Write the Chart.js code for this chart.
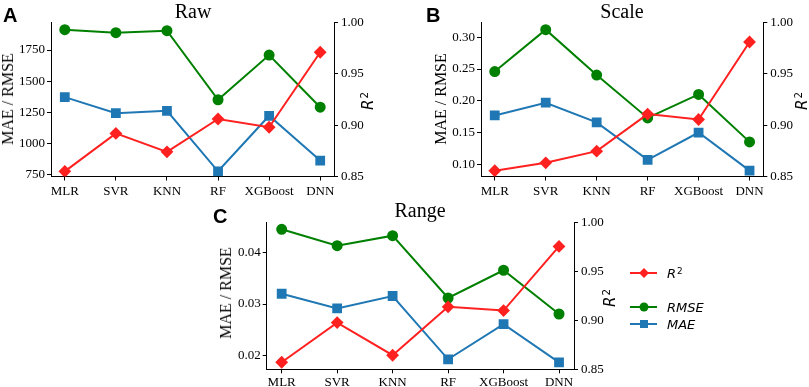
<!DOCTYPE html>
<html>
<head>
<meta charset="utf-8">
<script src="https://cdn.jsdelivr.net/npm/chart.js@4/dist/chart.umd.min.js"></script>
<style>
  body { margin: 0; background: #fff; width: 809px; height: 387px; position: relative; overflow: hidden; }
  canvas { position: absolute; }
  .t { position: absolute; white-space: nowrap; line-height: 1; color: #000; }
  .letter { font: bold 20px "Liberation Sans", Arial, sans-serif; }
  .title { font: 20px "Liberation Serif", "Times New Roman", serif; transform: translateX(-50%); }
  .ylab { font: 16px "Liberation Serif", "Times New Roman", serif; transform: translate(-50%, -50%) rotate(-90deg); }
  .r2 { font: italic 15px "DejaVu Sans", sans-serif; transform: translate(-50%, -50%) rotate(-90deg); }
  .sup { font-style: normal; font-size: 0.68em; position: relative; top: -0.5em; margin-left: 1px; }
  .leg { position: absolute; left: 630px; width: 27px; height: 2px; }
  .mk { position: absolute; left: 50%; top: 50%; }
  .legtxt { position: absolute; left: 667px; font: italic 13px "DejaVu Sans", sans-serif; line-height: 1; transform: translateY(-50%); }
</style>
</head>
<body>
<canvas id="rawChart" width="400" height="200" style="left:0;top:0"></canvas>
<canvas id="scaleChart" width="379" height="200" style="left:430px;top:0"></canvas>
<canvas id="rangeChart" width="420" height="187" style="left:216px;top:200px"></canvas>

<div class="t letter" style="left:3px;top:4px">A</div>
<div class="t letter" style="left:426px;top:4px">B</div>
<div class="t letter" style="left:213px;top:205px">C</div>

<div class="t title" style="left:193px;top:0">Raw</div>
<div class="t title" style="left:622px;top:0">Scale</div>
<div class="t title" style="left:420px;top:199px">Range</div>

<div class="t ylab" style="left:8px;top:99px">MAE / RMSE</div>
<div class="t ylab" style="left:441px;top:99px">MAE / RMSE</div>
<div class="t ylab" style="left:226px;top:293px">MAE / RMSE</div>

<div class="t r2" style="left:368px;top:101px">R<span class="sup">2</span></div>
<div class="t r2" style="left:802px;top:101px">R<span class="sup">2</span></div>
<div class="t r2" style="left:610px;top:298px">R<span class="sup">2</span></div>

<div class="leg" style="top:272px;background:#ff2020">
  <div class="mk" style="width:7px;height:7px;background:#ff2020;transform:translate(-50%,-50%) rotate(45deg)"></div>
</div>
<div class="legtxt" style="top:273px">R<span class="sup">2</span></div>
<div class="leg" style="top:306px;background:#008000">
  <div class="mk" style="width:9px;height:9px;border-radius:50%;background:#008000;transform:translate(-50%,-50%)"></div>
</div>
<div class="legtxt" style="top:307px">RMSE</div>
<div class="leg" style="top:323px;background:#1f77b4">
  <div class="mk" style="width:8px;height:8px;background:#1f77b4;transform:translate(-50%,-50%)"></div>
</div>
<div class="legtxt" style="top:324px">MAE</div>

<script>
const categories = ["MLR", "SVR", "KNN", "RF", "XGBoost", "DNN"];

const rawRMSE = [1914, 1890, 1906, 1350, 1710, 1290];
const rawMAE = [1371, 1242, 1261, 774, 1221, 860];
const rawR2 = [0.855, 0.892, 0.874, 0.906, 0.898, 0.971];
const rawTicks = [750, 1000, 1250, 1500, 1750];

const scaleRMSE = [0.246, 0.312, 0.2406, 0.173, 0.210, 0.1353];
const scaleMAE = [0.177, 0.197, 0.166, 0.107, 0.150, 0.090];
const scaleR2 = [0.8556, 0.8633, 0.8747, 0.9108, 0.9055, 0.981];
const scaleTicks = [0.10, 0.15, 0.20, 0.25, 0.30];

const rangeRMSE = [0.04456, 0.04137, 0.04332, 0.03117, 0.03658, 0.02805];
const rangeMAE = [0.0320, 0.02915, 0.03156, 0.01922, 0.02606, 0.01863];
const rangeR2 = [0.8572, 0.8978, 0.8644, 0.9139, 0.9101, 0.9757];
const rangeTicks = [0.02, 0.03, 0.04];

const r2Ticks = [0.85, 0.90, 0.95, 1.00];

const red = "#ff2020";
const green = "#008000";
const blue = "#1f77b4";
const tickFont = { family: '"Liberation Serif", "Times New Roman", serif', size: 13 };

function panel(id, rmse, mae, r2, yMin, yMax, yTicks, decimals, fit) {
  const pts = (vals) => categories.map((c, i) => ({ x: i, y: vals[i] }));
  const line = (label, vals, color, style, radius, axis, order) => ({
    label: label,
    data: pts(vals),
    yAxisID: axis,
    borderColor: color,
    backgroundColor: color,
    pointBackgroundColor: color,
    pointBorderColor: color,
    pointStyle: style,
    pointRadius: radius,
    borderWidth: 2,
    tension: 0,
    order: order,
  });
  const axisBase = {
    grid: { drawOnChartArea: false, tickLength: 4, color: "#000" },
    border: { color: "#000", width: 1 },
  };
  return new Chart(document.getElementById(id), {
    type: "line",
    data: {
      datasets: [
        line("R²", r2, red, "rectRot", 5, "y1", 0),
        line("RMSE", rmse, green, "circle", 4.5, "y", 1),
        line("MAE", mae, blue, "rect", 5.5, "y", 2),
      ],
    },
    options: {
      responsive: false,
      animation: false,
      devicePixelRatio: 1,
      layout: { padding: { top: fit.top, left: 0, right: 0, bottom: 0 } },
      plugins: { legend: { display: false }, tooltip: { enabled: false } },
      scales: {
        x: {
          ...axisBase,
          type: "linear",
          min: -0.27,
          max: 5.27,
          afterBuildTicks: (s) => { s.ticks = categories.map((c, i) => ({ value: i })); },
          afterFit: (s) => { s.height = fit.bottom; },
          ticks: { callback: (v) => categories[v], font: tickFont, color: "#000", padding: fit.xpad, maxRotation: 0, autoSkip: false },
        },
        y: {
          ...axisBase,
          position: "left",
          min: yMin,
          max: yMax,
          afterBuildTicks: (s) => { s.ticks = yTicks.map((v) => ({ value: v })); },
          afterFit: (s) => { s.width = fit.left; },
          ticks: { callback: (v) => v.toFixed(decimals), font: tickFont, color: "#000", padding: 2 },
        },
        y1: {
          ...axisBase,
          position: "right",
          min: 0.85,
          max: 1.0,
          afterBuildTicks: (s) => { s.ticks = r2Ticks.map((v) => ({ value: v })); },
          afterFit: (s) => { s.width = fit.right; },
          ticks: { callback: (v) => v.toFixed(2), font: tickFont, color: "#000", padding: 3 },
        },
      },
    },
  });
}

panel("rawChart", rawRMSE, rawMAE, rawR2, 732, 1972, rawTicks, 0,
  { top: 22.5, bottom: 23.5, left: 51, right: 66, xpad: 3 });
panel("scaleChart", scaleRMSE, scaleMAE, scaleR2, 0.0808, 0.3233, scaleTicks, 2,
  { top: 22.5, bottom: 23.5, left: 51, right: 45.7, xpad: 3 });
panel("rangeChart", rangeRMSE, rangeMAE, rangeR2, 0.01727, 0.04585, rangeTicks, 2,
  { top: 22.7, bottom: 17.7, left: 50.7, right: 62, xpad: 1 });
</script>
</body>
</html>
